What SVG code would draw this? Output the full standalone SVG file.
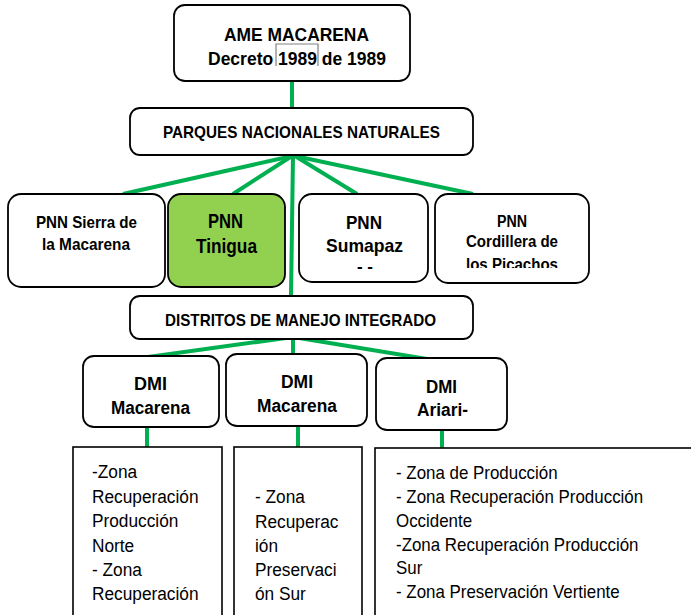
<svg xmlns="http://www.w3.org/2000/svg" width="691" height="615" viewBox="0 0 691 615">
<style>
.box{fill:#fff;stroke:#000;stroke-width:1.8}
.green{fill:#92D050;stroke:#000;stroke-width:1.8}
.sq{fill:#fff;stroke:#000;stroke-width:1.6}
.b{font-family:"Liberation Sans",Arial,sans-serif;font-weight:bold;fill:#000}
.r{font-family:"Liberation Sans",Arial,sans-serif;font-size:18px;fill:#000}
.c{stroke:#00B050;stroke-width:4;fill:none;stroke-linecap:butt}
</style>
<defs>
<clipPath id="clipCord"><rect x="435" y="194" width="154" height="74"/></clipPath>
</defs>
<rect width="691" height="615" fill="#fff"/>
<g id="connectors">
<line class="c" x1="292" y1="81" x2="292" y2="108"/>
<line class="c" x1="293" y1="155" x2="291" y2="296"/>
<line class="c" x1="292" y1="156" x2="123" y2="194"/>
<line class="c" x1="292" y1="156" x2="233" y2="194"/>
<line class="c" x1="295" y1="156" x2="357" y2="194"/>
<line class="c" x1="295" y1="156" x2="473" y2="194"/>
<line class="c" x1="293" y1="337" x2="148" y2="357"/>
<line class="c" x1="293" y1="337" x2="293" y2="354"/>
<line class="c" x1="293" y1="337" x2="427" y2="359"/>
<line class="c" x1="147" y1="427" x2="147" y2="448"/>
<line class="c" x1="298" y1="426" x2="298" y2="448"/>
<line class="c" x1="442" y1="430" x2="442" y2="448"/>
</g>
<g id="ame">
<rect class="box" x="174" y="5" width="236" height="76" rx="11"/>
<text class="b" font-size="18" x="224" y="41" textLength="145" lengthAdjust="spacingAndGlyphs">AME MACARENA</text>
<text class="b" font-size="18" x="208" y="65" textLength="178" lengthAdjust="spacingAndGlyphs">Decreto 1989 de 1989</text>
<polyline points="276,66 276,44 318,44 318,66" fill="none" stroke="#808080" stroke-width="1.2"/>
</g>
<g id="pnn">
<rect class="box" x="130" y="108" width="343" height="47" rx="10"/>
<text class="b" font-size="17" x="163" y="138" textLength="277" lengthAdjust="spacingAndGlyphs">PARQUES NACIONALES NATURALES</text>
</g>
<g id="sierra">
<rect class="box" x="8" y="194" width="157" height="93" rx="13"/>
<text class="b" font-size="17" x="36" y="228" textLength="101" lengthAdjust="spacingAndGlyphs">PNN Sierra de</text>
<text class="b" font-size="17" x="42" y="250" textLength="88" lengthAdjust="spacingAndGlyphs">la Macarena</text>
</g>
<g id="tinigua">
<rect class="green" x="168" y="194" width="117" height="93" rx="13"/>
<text class="b" font-size="20" x="208" y="228" textLength="35" lengthAdjust="spacingAndGlyphs">PNN</text>
<text class="b" font-size="20" x="196" y="253" textLength="61" lengthAdjust="spacingAndGlyphs">Tinigua</text>
</g>
<g id="sumapaz">
<rect class="box" x="299" y="194" width="129" height="88" rx="13"/>
<text class="b" font-size="19" x="346" y="229" textLength="36" lengthAdjust="spacingAndGlyphs">PNN</text>
<text class="b" font-size="19" x="326" y="252" textLength="77" lengthAdjust="spacingAndGlyphs">Sumapaz</text>
<text class="b" font-size="17" x="357" y="272" textLength="16" lengthAdjust="spacingAndGlyphs">- -</text>
</g>
<g id="cordillera">
<rect class="box" x="435" y="194" width="154" height="89" rx="13"/>
<text class="b" font-size="16" x="497" y="227" textLength="30" lengthAdjust="spacingAndGlyphs">PNN</text>
<text class="b" font-size="16" x="466" y="247" textLength="92" lengthAdjust="spacingAndGlyphs">Cordillera de</text>
<g clip-path="url(#clipCord)">
<text class="b" font-size="16" x="466" y="270" textLength="92" lengthAdjust="spacingAndGlyphs">los Picachos</text>
</g>
</g>
<g id="dmi-title">
<rect class="box" x="130" y="296" width="343" height="43" rx="10"/>
<text class="b" font-size="17" x="165" y="326" textLength="271" lengthAdjust="spacingAndGlyphs">DISTRITOS DE MANEJO INTEGRADO</text>
</g>
<g id="dmi1">
<rect class="box" x="83" y="356" width="136" height="71" rx="11"/>
<text class="b" font-size="18" x="134" y="390" textLength="33" lengthAdjust="spacingAndGlyphs">DMI</text>
<text class="b" font-size="18" x="111" y="414" textLength="79" lengthAdjust="spacingAndGlyphs">Macarena</text>
</g>
<g id="dmi2">
<rect class="box" x="226" y="354" width="141" height="72" rx="11"/>
<text class="b" font-size="18" x="281" y="388" textLength="32" lengthAdjust="spacingAndGlyphs">DMI</text>
<text class="b" font-size="18" x="257" y="412" textLength="80" lengthAdjust="spacingAndGlyphs">Macarena</text>
</g>
<g id="dmi3">
<rect class="box" x="376" y="358" width="131" height="72" rx="11"/>
<text class="b" font-size="18" x="426" y="393" textLength="31" lengthAdjust="spacingAndGlyphs">DMI</text>
<text class="b" font-size="18" x="417" y="416" textLength="51" lengthAdjust="spacingAndGlyphs">Ariari-</text>
</g>
<g id="zonas1">
<rect class="sq" x="73" y="447" width="149" height="180"/>
<g transform="translate(92,0) scale(0.96,1)">
<text class="r" x="0" y="478">-Zona</text>
<text class="r" x="0" y="503">Recuperación</text>
<text class="r" x="0" y="527">Producción</text>
<text class="r" x="0" y="552">Norte</text>
<text class="r" x="0" y="576">- Zona</text>
<text class="r" x="0" y="600">Recuperación</text>
</g>
</g>
<g id="zonas2">
<rect class="sq" x="234" y="447" width="128" height="180"/>
<g transform="translate(255,0) scale(0.96,1)">
<text class="r" x="0" y="503">- Zona</text>
<text class="r" x="0" y="528">Recuperac</text>
<text class="r" x="0" y="552">ión</text>
<text class="r" x="0" y="576">Preservaci</text>
<text class="r" x="0" y="600">ón Sur</text>
</g>
</g>
<g id="zonas3">
<rect class="sq" x="375" y="448" width="330" height="180"/>
<g transform="translate(396,0) scale(0.94,1)">
<text class="r" x="0" y="479">- Zona de Producción</text>
<text class="r" x="0" y="503">- Zona Recuperación Producción</text>
<text class="r" x="0" y="527">Occidente</text>
<text class="r" x="0" y="551">-Zona Recuperación Producción</text>
<text class="r" x="0" y="574">Sur</text>
<text class="r" x="0" y="598">- Zona Preservación Vertiente</text>
</g>
</g>
</svg>
